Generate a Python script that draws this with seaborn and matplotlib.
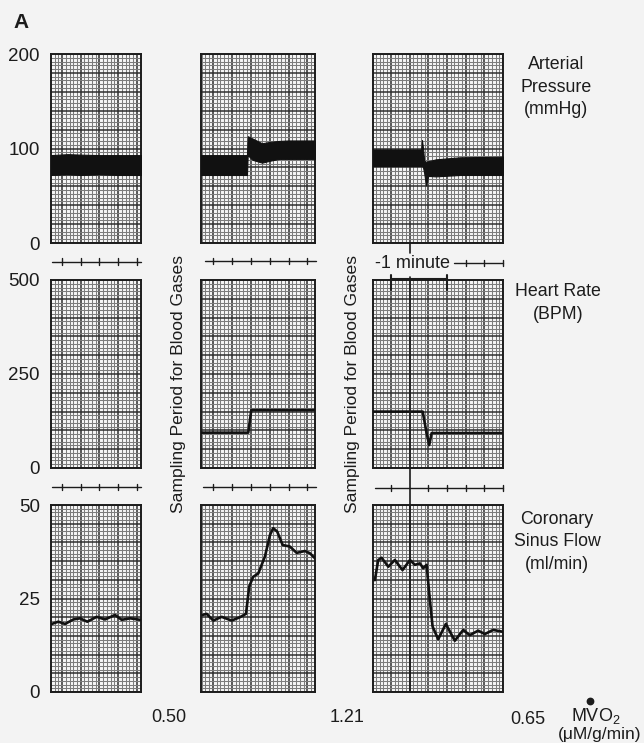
import numpy as np
import matplotlib
matplotlib.use('Agg')
import matplotlib.pyplot as plt
import seaborn as sns
from matplotlib.lines import Line2D
from matplotlib.ticker import MultipleLocator, FuncFormatter
from matplotlib.transforms import blended_transform_factory

# ---------------- data (x in chart-paper major divisions, 1 div = 20 s) -------------
# Arterial pressure band (mmHg): upper / lower envelope
bp1_x = [-0.59, 0.3, 1.0, 2.0, 3.0, 4.22]
bp1_hi = [93, 94, 93.5, 93, 93, 93]
bp1_lo = [72, 72.5, 72, 72.5, 72, 72]

bp2_x = [-0.63, 1.80, 1.84, 2.1, 2.6, 3.0, 3.5, 4.0, 5.4]
bp2_hi = [93, 93, 113, 110.5, 105.5, 107, 108, 108.5, 108.5]
bp2_lo = [72, 72, 93, 88, 85, 87, 89, 89, 89]

bp3_x = [-0.96, 1.62, 1.66, 1.72, 1.78, 1.88, 2.0, 2.4, 3.7, 6.0]
bp3_hi = [99, 99, 109, 100, 87, 86, 86.5, 88.5, 90.7, 91.3]
bp3_lo = [81.5, 81.5, 82, 80, 74, 61, 71, 70.5, 72, 72]

# Heart rate (BPM)
hr2_x = [-0.63, 1.87, 2.03, 5.4]
hr2_y = [94, 94, 154, 154]
hr3_x = [-0.96, 1.70, 1.90, 2.05, 2.18, 6.0]
hr3_y = [150, 150, 95, 61, 93, 93]

# Coronary sinus flow (ml/min)
cf1_x = [-0.55, -0.2, 0.16, 0.61, 0.96, 1.35, 1.85, 2.3, 2.83, 3.19, 3.64, 4.17]
cf1_y = [18.2, 18.8, 18.2, 19.4, 19.7, 18.8, 20.1, 19.4, 20.6, 19.3, 19.7, 19.3]
cf2_x = [-0.55, -0.33, 0.02, 0.46, 0.99, 1.43, 1.75, 1.92, 2.13, 2.4, 2.75, 3.02,
         3.19, 3.4, 3.69, 4.07, 4.43, 4.87, 5.13, 5.41]
cf2_y = [20.6, 20.9, 19.1, 20.1, 19.1, 20.0, 20.9, 28.2, 30.8, 31.7, 36.2, 42.0,
         43.8, 42.9, 39.3, 38.9, 37.2, 37.7, 37.1, 35.7]
cf3_x = [-0.86, -0.68, -0.5, -0.14, 0.21, 0.62, 1.02, 1.28, 1.55, 1.73, 1.91, 2.05,
         2.23, 2.53, 2.94, 3.42, 3.87, 4.22, 4.67, 5.03, 5.47, 6.0]
cf3_y = [29.9, 35.3, 35.9, 33.5, 35.3, 32.6, 35.3, 34.0, 34.4, 33.1, 34.0, 26.4,
         17.5, 14.1, 18.2, 13.7, 16.6, 15.2, 16.4, 15.5, 16.6, 16.1]

mvo2_values = ["0.50", "1.21", "0.65"]
row_titles = ["Arterial\nPressure\n(mmHg)", "Heart Rate\n(BPM)", "Coronary\nSinus Flow\n(ml/min)"]
row_ymax = [200, 500, 50]
row_ymajor = [20, 50, 5]
row_ylabels = [[0, 100, 200], [0, 250, 500], [0, 25, 50]]

# ---------------- style -------------
sns.set_theme(style='white')
plt.rcParams['font.family'] = ['Liberation Sans', 'DejaVu Sans']
plt.rcParams['mathtext.fontset'] = 'custom'
plt.rcParams['mathtext.rm'] = 'Liberation Sans'
plt.rcParams['mathtext.it'] = 'Liberation Sans:italic'
plt.rcParams['mathtext.bf'] = 'Liberation Sans:bold'

W, H = 644, 743
BG = '#f3f3f3'
INK = '#1c1c1c'
fig = plt.figure(figsize=(W / 100, H / 100), dpi=100, facecolor=BG)

col_px = [(51, 141), (201, 315), (373, 503)]
row_px = [(54, 243), (280, 468), (505, 692)]
xlims = [(-0.59, 4.22), (-0.63, 5.4), (-0.96, 6.0)]

axes = [[None] * 3 for _ in range(3)]
for r in range(3):
    for c in range(3):
        x0, x1 = col_px[c]
        y0, y1 = row_px[r]
        ax = fig.add_axes([x0 / W, 1 - y1 / H, (x1 - x0) / W, (y1 - y0) / H])
        ax.set_facecolor('#f6f6f6')
        ax.set_xlim(*xlims[c])
        ax.set_ylim(0, row_ymax[r])
        ax.xaxis.set_major_locator(MultipleLocator(1))
        ax.xaxis.set_minor_locator(MultipleLocator(0.2))
        ax.yaxis.set_major_locator(MultipleLocator(row_ymajor[r]))
        ax.yaxis.set_minor_locator(MultipleLocator(row_ymajor[r] / 5))
        ax.grid(which='minor', color='#7c7c7c', lw=0.75)
        ax.grid(which='major', color='#2e2e2e', lw=1.1)
        ax.set_axisbelow(True)
        ax.tick_params(axis='both', which='both', length=0)
        ax.tick_params(axis='x', labelbottom=False)
        labs = row_ylabels[r]
        if c == 0:
            ax.yaxis.set_major_formatter(FuncFormatter(
                lambda v, p, labs=labs: f"{v:g}" if any(abs(v - l) < 1e-6 for l in labs) else ""))
            ax.tick_params(axis='y', labelsize=13.5, pad=8, labelcolor=INK)
        else:
            ax.tick_params(axis='y', labelleft=False)
        for s in ax.spines.values():
            s.set_color(INK)
            s.set_linewidth(1.4)
        axes[r][c] = ax

# ---------------- traces -------------
bps = [(bp1_x, bp1_lo, bp1_hi), (bp2_x, bp2_lo, bp2_hi), (bp3_x, bp3_lo, bp3_hi)]
for c, (bx, blo, bhi) in enumerate(bps):
    axes[0][c].fill_between(bx, blo, bhi, color='#111111', lw=0.8, edgecolor='#111111', zorder=3)

for c, (hx, hy) in {1: (hr2_x, hr2_y), 2: (hr3_x, hr3_y)}.items():
    sns.lineplot(x=hx, y=hy, ax=axes[1][c], color='#111111', lw=1.9,
                 sort=False, estimator=None, zorder=3)

for c, (fx, fy) in enumerate([(cf1_x, cf1_y), (cf2_x, cf2_y), (cf3_x, cf3_y)]):
    sns.lineplot(x=fx, y=fy, ax=axes[2][c], color='#111111', lw=1.9,
                 sort=False, estimator=None, zorder=3)

for r in range(3):
    for c in range(3):
        axes[r][c].set_xlabel('')
        axes[r][c].set_ylabel('')

# ---------------- time-mark strips -------------
def strip(ax, yfrac, xa, xb, ticks, tick_h=0.017):
    tr = blended_transform_factory(ax.transData, ax.transAxes)
    ax.plot([xa, xb], [yfrac, yfrac], color=INK, lw=1.0, transform=tr, clip_on=False)
    for t in ticks:
        ax.plot([t, t], [yfrac - tick_h, yfrac + tick_h], color=INK, lw=1.0,
                transform=tr, clip_on=False)

strip(axes[0][0], -0.099, -0.53, 4.22, [0, 1, 2, 3, 4])
strip(axes[0][1], -0.094, -0.42, 5.45, [0, 1, 2, 3, 4, 5])
strip(axes[0][2], -0.105, 3.37, 6.0, [4, 5, 6])
strip(axes[1][0], -0.1, -0.53, 4.22, [0, 1, 2, 3, 4])
strip(axes[1][1], -0.1, -0.55, 5.45, [0, 1, 2, 3, 4, 5])
strip(axes[1][2], -0.106, -0.86, 6.0, [0, 2, 3, 4, 5, 6])

# one-minute marker and long vertical event line in third column
tr = blended_transform_factory(axes[0][2].transData, axes[0][2].transAxes)
axes[0][2].plot([1, 1], [0, -0.053], color=INK, lw=1.2, transform=tr, clip_on=False)
tr = blended_transform_factory(axes[1][2].transData, axes[1][2].transAxes)
axes[1][2].plot([1, 1], [1.016, -0.2], color=INK, lw=1.2, transform=tr, clip_on=False, zorder=4)
axes[1][2].plot([0, 3], [1.004, 1.004], color=INK, lw=1.5, transform=tr, clip_on=False)
for t in [0, 3]:
    axes[1][2].plot([t, t], [1.027, 0.947], color=INK, lw=1.5, transform=tr, clip_on=False)
axes[2][2].axvline(1, color=INK, lw=1.3, zorder=2.5)

# ---------------- text -------------
def ftext(x, y, s, **kw):
    kw.setdefault('color', INK)
    fig.text(x / W, 1 - y / H, s, **kw)

ftext(21, 22, "A", fontsize=15, fontweight='bold', ha='center', va='center')
ftext(375, 263, "-1 minute", fontsize=13, ha='left', va='center')

title_pos = [(556, 87), (558, 303), (557, 542)]
for (tx, ty), t in zip(title_pos, row_titles):
    ftext(tx, ty, t, fontsize=12.8, ha='center', va='center', linespacing=1.42)

for x in [178, 353]:
    ftext(x, 384, "Sampling Period for Blood Gases", fontsize=12.6, rotation=90,
          ha='center', va='center')

for (mx, my), v in zip([(169, 718), (347, 718), (528, 719)], mvo2_values):
    ftext(mx, my, v, fontsize=13, ha='center', va='center')
ftext(596, 716, r"MVO$_2$", fontsize=13, ha='center', va='center')
# the "dot" of V-dot (rate symbol) drawn above the V
fig.add_artist(Line2D([590 / W], [1 - 701 / H], marker='o', markersize=4.6,
                      color=INK, transform=fig.transFigure))
ftext(600, 734, "(\u03bcM/g/min)", fontsize=12.5, ha='center', va='center')

fig.savefig('out.png', dpi=100, facecolor=BG)
